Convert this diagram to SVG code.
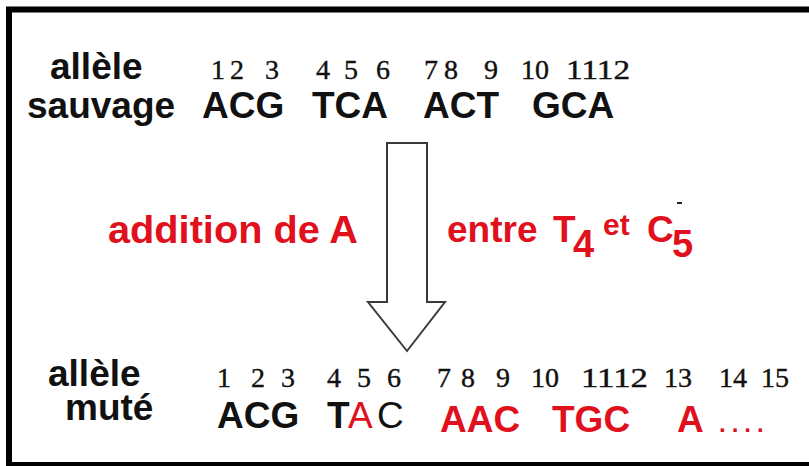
<svg xmlns="http://www.w3.org/2000/svg" width="809" height="466" viewBox="0 0 809 466">
<style>
.lab{font-family:"Liberation Sans",Arial,sans-serif;font-weight:bold;font-size:37px;fill:#111}
.seq{font-family:"Liberation Sans",Arial,sans-serif;font-weight:bold;font-size:37px;fill:#111}
.reg{font-weight:normal}
.num{font-family:"Liberation Serif","Times New Roman",serif;font-size:28px;fill:#111;stroke:#111;stroke-width:0.4}
.red{fill:#e0101c}
.mid{font-family:"Liberation Sans",Arial,sans-serif;font-weight:bold;font-size:37px;fill:#e0101c}
</style>
<rect width="809" height="466" fill="#fff"/>
<g id="frame">
<rect x="9" y="9.5" width="830" height="455.5" fill="none" stroke="#000" stroke-width="6"/>
</g>
<g id="allele-sauvage">
<text class="lab" x="50" y="79">allèle</text>
<text class="lab" x="27" y="118">sauvage</text>
<text class="num" y="79"><tspan x="211">1</tspan><tspan x="230">2</tspan><tspan x="265">3</tspan><tspan x="316">4</tspan><tspan x="344">5</tspan><tspan x="376">6</tspan><tspan x="424">7</tspan><tspan x="444">8</tspan><tspan x="484">9</tspan><tspan x="521">10</tspan></text>
<text class="num" x="566" y="79" textLength="64" lengthAdjust="spacingAndGlyphs">1112</text>
<text class="seq" y="118"><tspan x="202">ACG</tspan><tspan x="312">TCA</tspan><tspan x="423">ACT</tspan><tspan x="532">GCA</tspan></text>
</g>
<g id="connectors">
<path d="M387,143 H427 V302 H445 L407,351 L368,302 H387 Z" fill="#fff" stroke="#3a3a3a" stroke-width="2"/>
</g>
<g id="label-addition">
<text class="mid" x="108" y="243" style="font-size:38px" textLength="250" lengthAdjust="spacingAndGlyphs">addition de A</text>
<text class="mid" x="447" y="242">entre</text>
<text class="mid" x="553" y="242">T</text>
<text class="mid" x="573" y="257" style="font-size:38px">4</text>
<text class="mid" x="603" y="235" style="font-size:30px">et</text>
<text class="mid" x="647" y="242">C</text>
<text class="mid" x="672" y="257" style="font-size:38px">5</text>
<rect x="677" y="202" width="5" height="2" fill="#222"/>
</g>
<g id="allele-mute">
<text class="lab" x="48" y="386">allèle</text>
<text class="lab" x="65" y="420">muté</text>
<text class="num" y="387"><tspan x="217">1</tspan><tspan x="251">2</tspan><tspan x="281">3</tspan><tspan x="327">4</tspan><tspan x="357">5</tspan><tspan x="387">6</tspan><tspan x="437">7</tspan><tspan x="461">8</tspan><tspan x="496">9</tspan><tspan x="531">10</tspan><tspan x="664">13</tspan><tspan x="719">14</tspan><tspan x="761">15</tspan></text>
<text class="num" x="581" y="387" textLength="67" lengthAdjust="spacingAndGlyphs">1112</text>
<text class="seq" y="428"><tspan x="217">ACG</tspan><tspan x="327">T</tspan><tspan x="348" class="red reg">A</tspan><tspan x="377" class="reg">C</tspan></text>
<text class="seq red" y="432"><tspan x="440">AAC</tspan><tspan x="552">TGC</tspan><tspan x="677">A</tspan></text>
<text class="seq red" x="719" y="432" style="font-size:24px;letter-spacing:6px">....</text>
</g>
</svg>
